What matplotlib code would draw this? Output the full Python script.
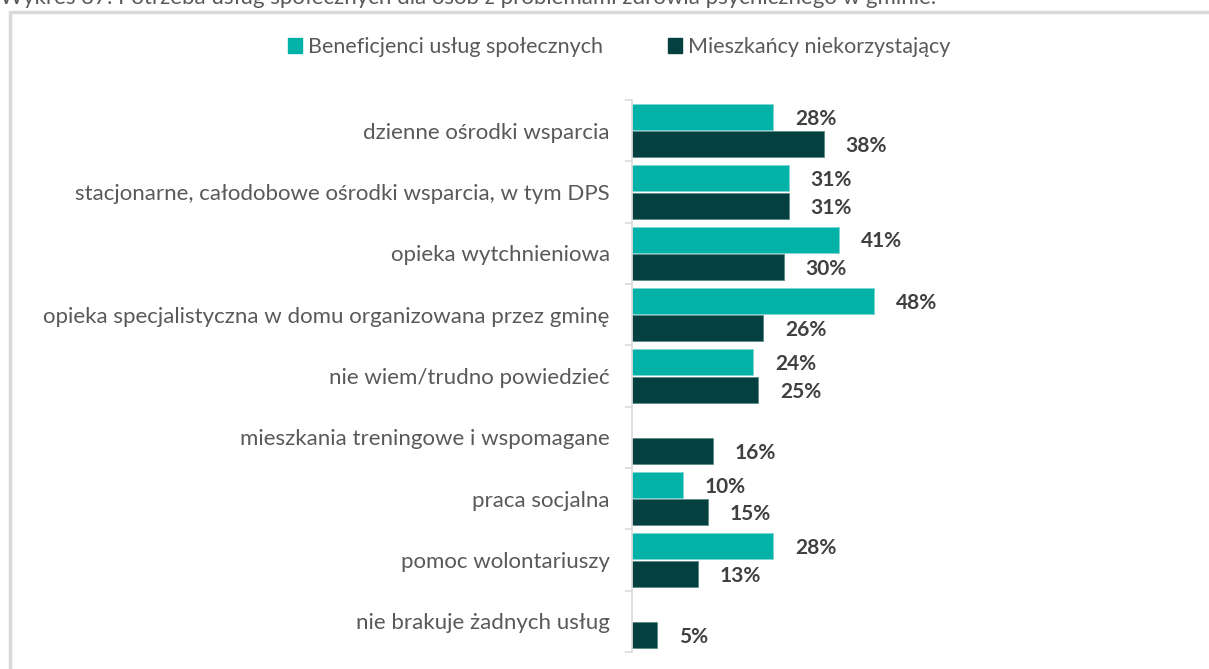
import numpy as np
import matplotlib
matplotlib.use("Agg")
import matplotlib.pyplot as plt
from matplotlib.patches import Rectangle

plt.rcParams['font.family'] = ['Lato', 'DejaVu Sans']

categories = [
    "dzienne ośrodki wsparcia",
    "stacjonarne, całodobowe ośrodki wsparcia, w tym DPS",
    "opieka wytchnieniowa",
    "opieka specjalistyczna w domu organizowana przez gminę",
    "nie wiem/trudno powiedzieć",
    "mieszkania treningowe i wspomagane",
    "praca socjalna",
    "pomoc wolontariuszy",
    "nie brakuje żadnych usług",
]
beneficjenci = [28, 31, 41, 48, 24, None, 10, 28, None]
mieszkancy = [38, 31, 30, 26, 25, 16, 15, 13, 5]
series_names = ["Beneficjenci usług społecznych", "Mieszkańcy niekorzystający"]

title = "Wykres 37. Potrzeba usług społecznych dla osób z problemami zdrowia psychicznego w gminie."

c_light = "#00B2A7"
c_dark = "#03403F"
grey_txt = "#595959"
val_txt = "#404040"

W, H = 1209, 669
fig = plt.figure(figsize=(W / 100, H / 100), dpi=100)

# outer frame of the chart box
fig.patches.append(Rectangle((10 / W, -0.05), 1.2, 1.05 - 12 / H, transform=fig.transFigure,
                             fill=False, edgecolor="#d9d9d9", linewidth=2.5))
fig.text(0.0, 1 - 4 / H, title, fontsize=16, color=grey_txt, va="baseline", ha="left")

ax = fig.add_axes([632 / W, 1 - 652 / H, 505 / W, 552 / H])
y = np.arange(len(categories))
off, h = 0.223, 0.42

for i, (b, m) in enumerate(zip(beneficjenci, mieszkancy)):
    if b is not None:
        ax.barh(y[i] - off, b, height=h, color=c_light, edgecolor="#7fd6d0", linewidth=0.6)
        ax.text(b + 4.3, y[i] - off + 0.03, f"{b}%", va="center", ha="left",
                fontsize=15, fontweight="bold", color=val_txt)
    ax.barh(y[i] + off, m, height=h, color=c_dark, edgecolor="#5c8a88", linewidth=0.6)
    ax.text(m + 4.3, y[i] + off + 0.03, f"{m}%", va="center", ha="left",
            fontsize=15, fontweight="bold", color=val_txt)

ax.set_xlim(0, 100)
ax.set_ylim(len(categories) - 0.5, -0.5)
ax.set_xticks([])
ax.set_yticks(np.arange(len(categories) + 1) - 0.5)
ax.set_yticklabels([])
ax.set_yticks(y, minor=True)
ax.set_yticklabels(categories, minor=True, fontsize=16, color=grey_txt)
ax.tick_params(axis="y", which="major", length=5, color="#d9d9d9", width=1.2)
ax.tick_params(axis="y", which="minor", length=0, pad=16)
for s in ["top", "right", "bottom"]:
    ax.spines[s].set_visible(False)
ax.spines["left"].set_color("#d9d9d9")
ax.spines["left"].set_linewidth(1.2)

handles = [Rectangle((0, 0), 1, 1, color=c_light), Rectangle((0, 0), 1, 1, color=c_dark)]
fig.legend(handles, series_names, loc="center", bbox_to_anchor=(619 / W, 1 - 47 / H),
           ncol=2, frameon=False, fontsize=15.5, handlelength=0.65, handleheight=0.65,
           handletextpad=0.3, columnspacing=3.0, labelcolor=grey_txt)

fig.savefig("out.png", dpi=100)
